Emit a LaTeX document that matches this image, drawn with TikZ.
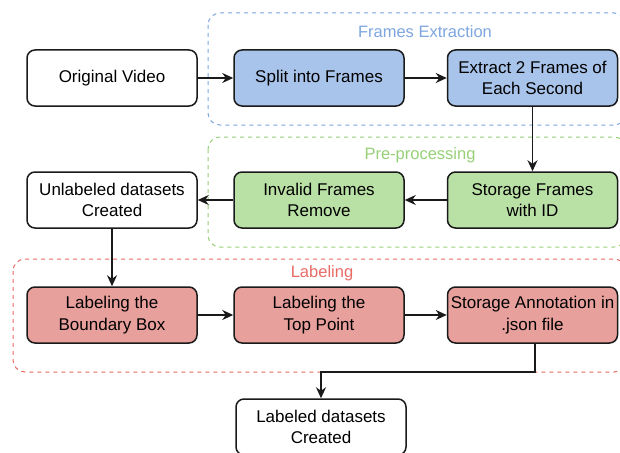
\documentclass[tikz,border=0pt]{standalone}
\usepackage{fontspec}
\setmainfont{Liberation Sans}
\usetikzlibrary{arrows.meta}
\definecolor{bfill}{HTML}{A9C4EB}
\definecolor{gfill}{HTML}{B9E0A5}
\definecolor{rfill}{HTML}{E8A09C}
\definecolor{bline}{HTML}{7EA6E0}
\definecolor{gline}{HTML}{97D077}
\definecolor{rline}{HTML}{EA6B66}
\definecolor{edge}{HTML}{1A1A1A}
\tikzset{
  x=1pt, y=-1pt,
  stepbox/.style={draw=edge, line width=1.5pt, rounded corners=8pt, minimum width=170pt, minimum height=56pt, align=center, font=\fontsize{17}{21.5}\selectfont, inner sep=0pt},
  grp/.style={dashed, line width=1pt, rounded corners=12pt, dash pattern=on 4pt off 4pt},
  grplabel/.style={font=\fontsize{16.5}{20}\selectfont},
  conn/.style={draw=edge, line width=1.5pt, -{Stealth[length=11pt,width=10pt]}},
}
\begin{document}
\begin{tikzpicture}
\useasboundingbox (0,0) rectangle (620,452);
\clip (0,0) rectangle (620,452);
\fill[white] (0,0) rectangle (620,452);
% groups
\draw[grp, draw=bline] (208,13) rectangle (626,125);
\draw[grp, draw=gline] (208,137) rectangle (626,247);
\draw[grp, draw=rline] (13,259) rectangle (626,372);
\node[grplabel, text=bline] (gfe) at (425,32) {Frames Extraction};
\node[grplabel, text=gline] (gpp) at (420,155) {Pre-processing};
\node[grplabel, text=rline] (glb) at (322,273) {Labeling};
% row 1
\node[stepbox, fill=white] (ov) at (112,78) {Original Video};
\node[stepbox, fill=bfill] (sf) at (319,78) {Split into Frames};
\node[stepbox, fill=bfill] (ef) at (532.5,78) {Extract 2 Frames of\\Each Second};
% row 2
\node[stepbox, fill=white] (ud) at (112,200) {Unlabeled datasets\\Created};
\node[stepbox, fill=gfill] (ir) at (319,200) {Invalid Frames\\Remove};
\node[stepbox, fill=gfill] (st) at (532.5,200) {Storage Frames\\with ID};
% row 3
\node[stepbox, fill=rfill] (lb) at (112,315) {Labeling the\\Boundary Box};
\node[stepbox, fill=rfill] (lt) at (319,315) {Labeling the\\Top Point};
\node[stepbox, fill=rfill] (sa) at (532.5,315) {Storage Annotation in\\.json file};
% row 4
\node[stepbox, fill=white] (ld) at (321,427) {Labeled datasets\\Created};
% connectors
\draw[conn] (ov) -- (sf);
\draw[conn] (sf) -- (ef);
\draw[conn] (ef) -- (st);
\draw[conn] (st) -- (ir);
\draw[conn] (ir) -- (ud);
\draw[conn] (ud) -- (lb);
\draw[conn] (lb) -- (lt);
\draw[conn] (lt) -- (sa);
\coordinate (bend) at (535,372);
\draw[conn] (sa.south -| bend) -- (bend) -| (ld.north);
\end{tikzpicture}
\end{document}
